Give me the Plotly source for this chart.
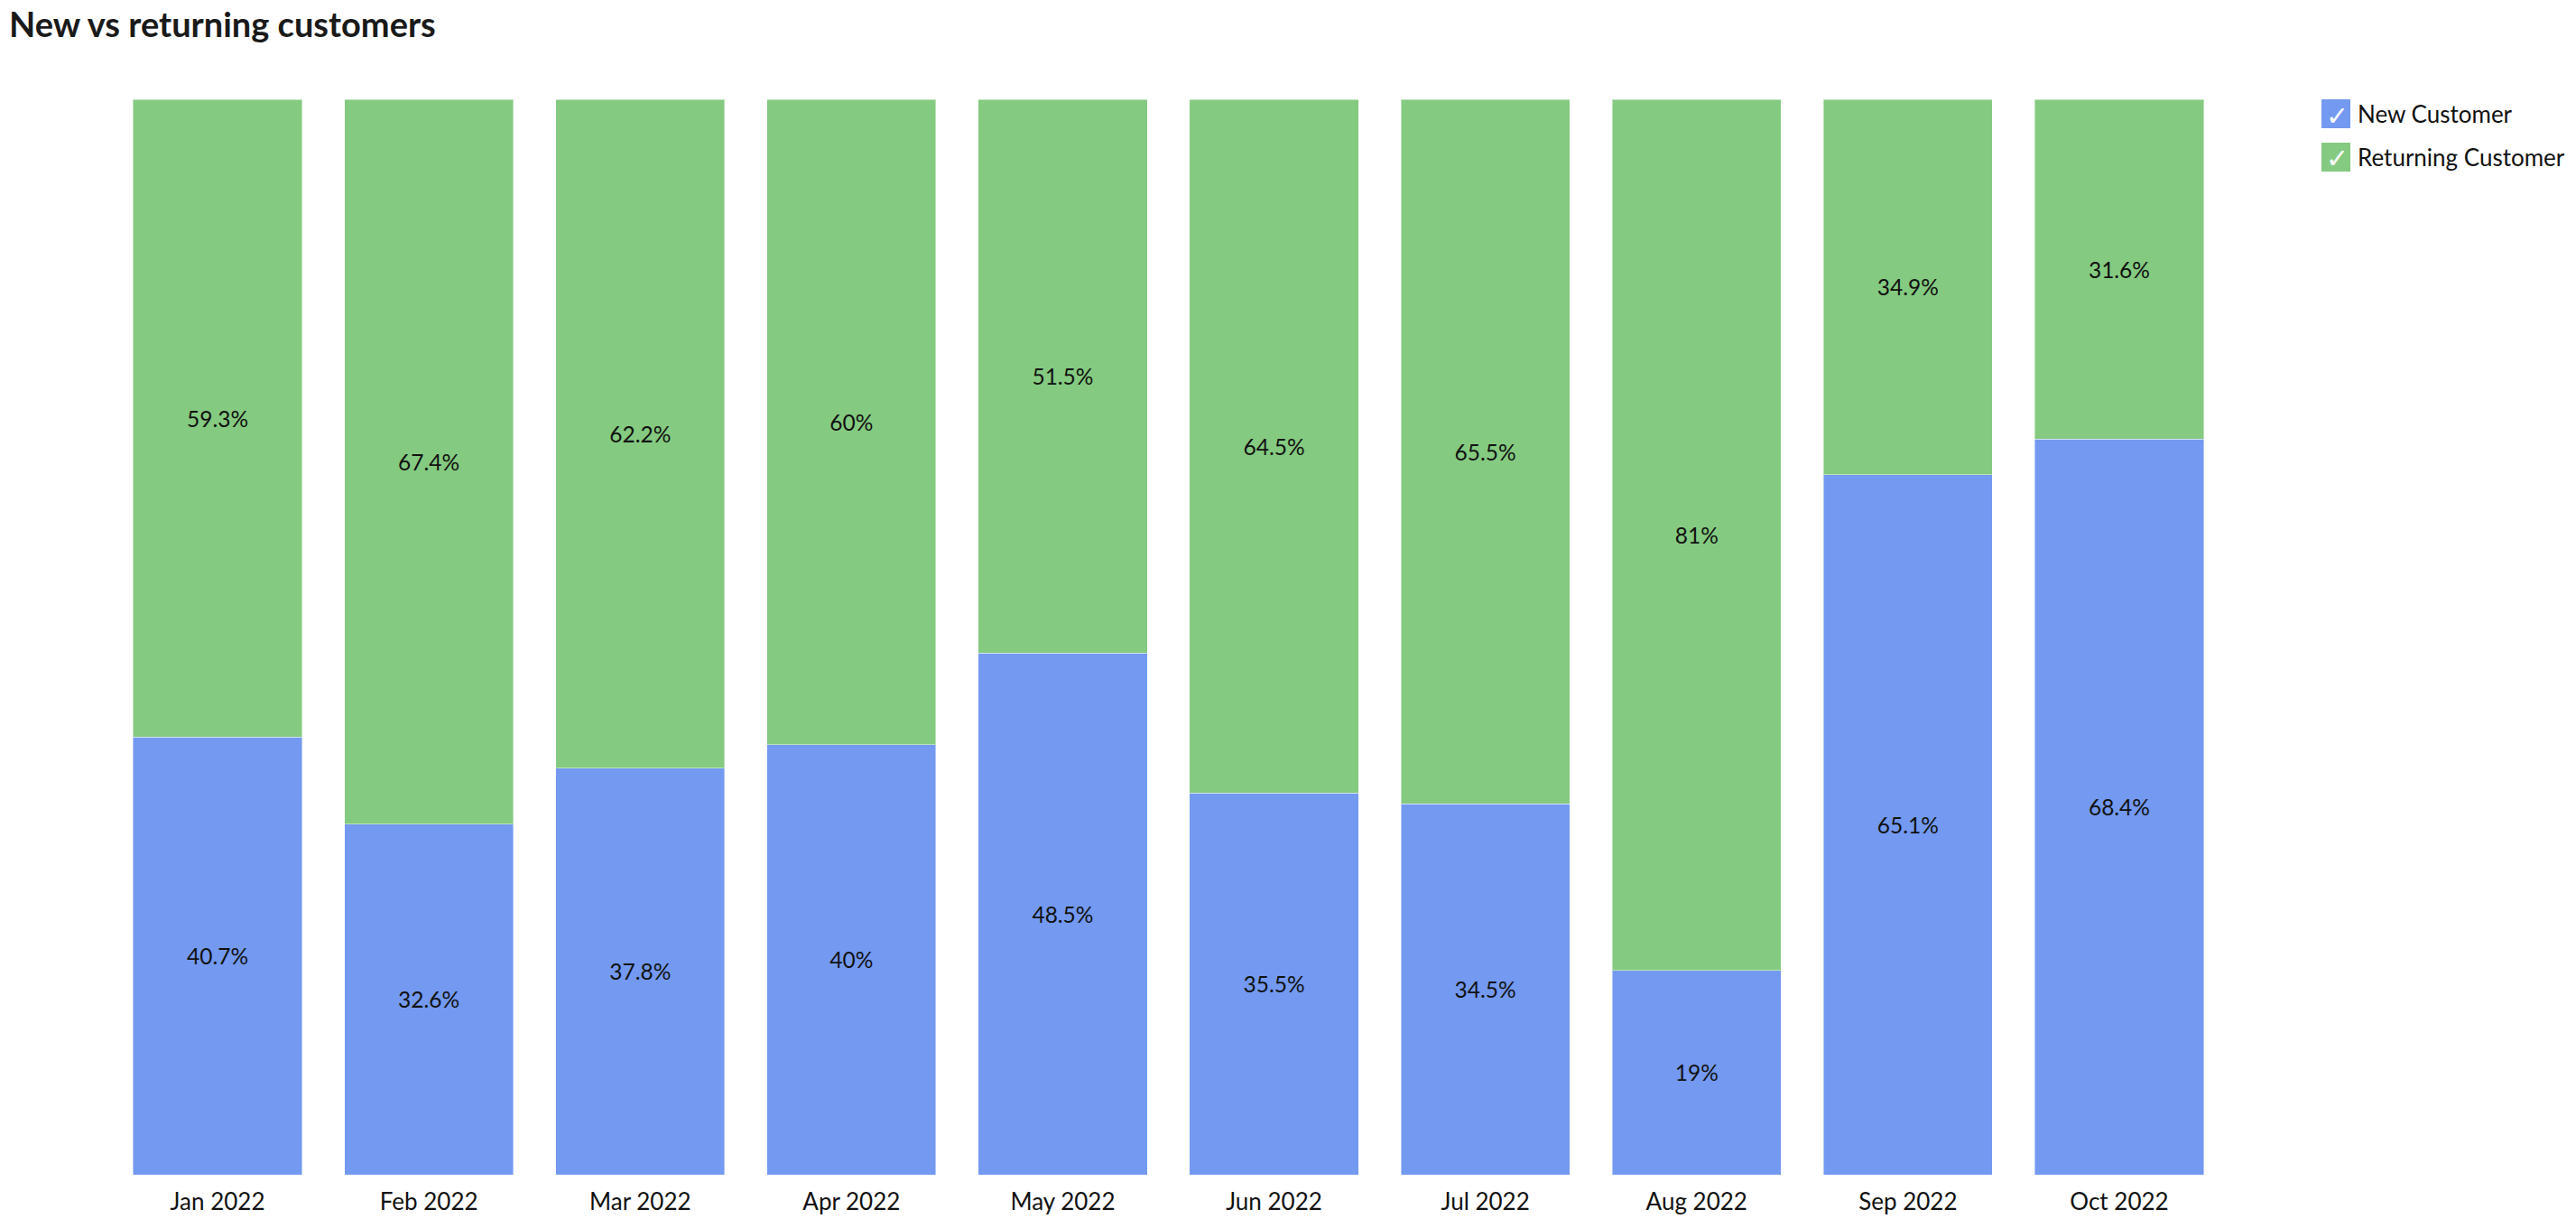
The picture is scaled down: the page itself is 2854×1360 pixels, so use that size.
import plotly.graph_objects as go

months = ["Jan 2022", "Feb 2022", "Mar 2022", "Apr 2022", "May 2022",
          "Jun 2022", "Jul 2022", "Aug 2022", "Sep 2022", "Oct 2022"]
new_customer = [40.7, 32.6, 37.8, 40, 48.5, 35.5, 34.5, 19, 65.1, 68.4]
returning_customer = [59.3, 67.4, 62.2, 60, 51.5, 64.5, 65.5, 81, 34.9, 31.6]
series_names = ["New Customer", "Returning Customer"]
series_colors = ["#7399F0", "#84CA80"]

W, H = 2854, 1360
L, R, T, B = 124, 389, 110, 59
PW, PH = W - L - R, H - T - B
FONT = "Lato, 'Open Sans', sans-serif"


def px_x(px):
    return (px - L) / PW


def px_y(py):
    return 1 - (py - T) / PH


fig = go.Figure()
for name, vals, col in zip(series_names, [new_customer, returning_customer], series_colors):
    fig.add_trace(go.Bar(
        x=months, y=vals, name=name,
        marker=dict(color=col, line=dict(width=1, color="rgba(255,255,255,0.45)")),
        texttemplate="%{y}%", textposition="inside", insidetextanchor="middle",
        textangle=0, constraintext="none",
        textfont=dict(family=FONT, size=24.5, color="#111111"),
        hoverinfo="skip", showlegend=False,
    ))

shapes, annotations = [], []
for i, (name, col) in enumerate(zip(series_names, series_colors)):
    top = 110 + i * 48
    shapes.append(dict(type="rect", xref="paper", yref="paper",
                       x0=px_x(2572), x1=px_x(2604), y0=px_y(top + 32), y1=px_y(top),
                       fillcolor=col, line=dict(width=0)))
    annotations.append(dict(xref="paper", yref="paper", x=px_x(2589), y=px_y(top + 18),
                            text="<b>✓</b>", showarrow=False, xanchor="center", yanchor="middle",
                            font=dict(family="DejaVu Sans", size=30, color="white")))
    annotations.append(dict(xref="paper", yref="paper", x=px_x(2610), y=px_y(top + 16),
                            text=name, showarrow=False, xanchor="left", yanchor="middle",
                            font=dict(family=FONT, size=26, color="#111111")))

fig.update_layout(
    width=W, height=H,
    margin=dict(l=L, r=R, t=T, b=B, pad=0),
    barmode="stack", bargap=0.2,
    plot_bgcolor="white", paper_bgcolor="white",
    title=dict(text="<b>New vs returning customers</b>", x=10 / W, xanchor="left",
               xref="container", yref="container", y=1 - 28 / H, yanchor="middle",
               font=dict(family=FONT, size=38, color="#1a1a1a")),
    xaxis=dict(showgrid=False, showline=False, zeroline=False, ticks="",
               ticklabelstandoff=12,
               tickfont=dict(family=FONT, size=26, color="#111111")),
    yaxis=dict(visible=False, range=[0, 100], showgrid=False),
    shapes=shapes, annotations=annotations,
    font=dict(family=FONT),
)

fig.write_html("out.html", post_script="document.body.style.margin='0';",
               config={"displayModeBar": False})
